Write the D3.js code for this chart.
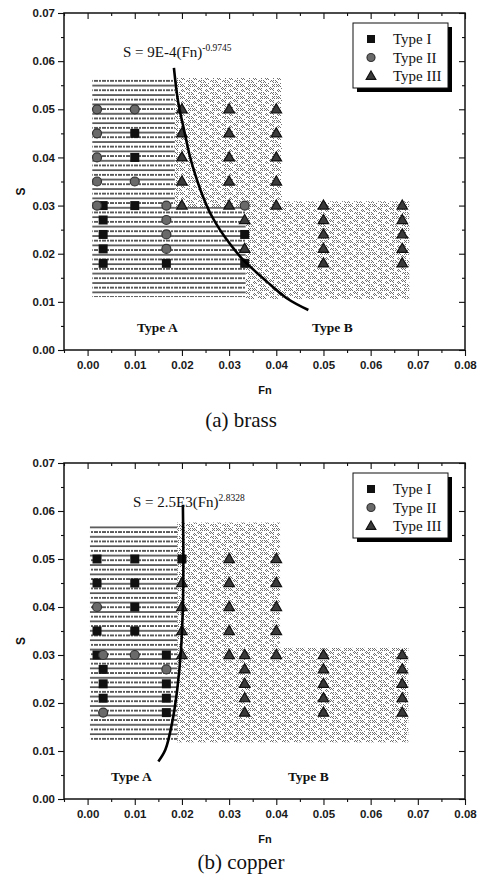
<!DOCTYPE html>
<html>
<head>
<meta charset="utf-8">
<script src="https://cdn.jsdelivr.net/npm/d3@7"></script>
<style>
  body { margin: 0; background: #fff; }
  svg { display: block; }
  .tick text { font-family: "Liberation Sans", Arial, sans-serif; font-size: 11.5px; font-weight: bold; fill: #1a1a1a; }
</style>
</head>
<body>
<div id="chart"></div>
<script>
// Axis ticks
const xTicks = [0, 0.01, 0.02, 0.03, 0.04, 0.05, 0.06, 0.07, 0.08];
const xMinor = [-0.005, 0.005, 0.015, 0.025, 0.035, 0.045, 0.055, 0.065, 0.075];
const yTicks = [0, 0.01, 0.02, 0.03, 0.04, 0.05, 0.06, 0.07];
const yMinor = [0.005, 0.015, 0.025, 0.035, 0.045, 0.055, 0.065];

// (a) brass
const brassTypeI = [[0.010, 0.045], [0.010, 0.040], [0.0033, 0.030], [0.010, 0.030],
    [0.0033, 0.027], [0.0033, 0.024], [0.0333, 0.024], [0.0033, 0.021],
    [0.0033, 0.018], [0.0167, 0.018], [0.0333, 0.018]];
const brassTypeII = [[0.002, 0.050], [0.010, 0.050], [0.002, 0.045], [0.002, 0.040],
    [0.002, 0.035], [0.010, 0.035], [0.002, 0.030], [0.0167, 0.030], [0.0333, 0.030],
    [0.0167, 0.027], [0.0167, 0.024], [0.0167, 0.021]];
const brassTypeIII = [[0.020, 0.050], [0.030, 0.050], [0.040, 0.050],
    [0.020, 0.045], [0.030, 0.045], [0.040, 0.045],
    [0.020, 0.040], [0.030, 0.040], [0.040, 0.040],
    [0.020, 0.035], [0.030, 0.035], [0.040, 0.035],
    [0.020, 0.030], [0.030, 0.030], [0.040, 0.030], [0.050, 0.030], [0.0667, 0.030],
    [0.0333, 0.027], [0.050, 0.027], [0.0667, 0.027],
    [0.050, 0.024], [0.0667, 0.024],
    [0.0333, 0.021], [0.050, 0.021], [0.0667, 0.021],
    [0.050, 0.018], [0.0667, 0.018]];
// boundary curve
const brassCurve = [[0.0183, 0.0586], [0.0192, 0.0515], [0.0205, 0.0455], [0.0217, 0.0402],
    [0.0232, 0.0353], [0.0246, 0.0315], [0.0260, 0.0284], [0.0281, 0.0249],
    [0.0306, 0.0215], [0.0330, 0.0187], [0.0380, 0.0142], [0.0423, 0.0107], [0.0468, 0.0083]];
// shaded zones [x0, x1, y0, y1]
const brassLined = [[0.001, 0.0185, 0.011, 0.0565], [0.0185, 0.0335, 0.011, 0.0297]];
const brassDotted = [[0.0185, 0.0412, 0.0297, 0.0565], [0.0335, 0.0682, 0.0106, 0.0309]];

// (b) copper
const copperTypeI = [[0.002, 0.050], [0.010, 0.050], [0.020, 0.050],
    [0.002, 0.045], [0.010, 0.045], [0.010, 0.040], [0.002, 0.035], [0.010, 0.035],
    [0.002, 0.030], [0.0167, 0.030], [0.0033, 0.027], [0.0033, 0.024], [0.0167, 0.024],
    [0.0033, 0.021], [0.0167, 0.021], [0.0167, 0.018]];
const copperTypeII = [[0.002, 0.040], [0.0033, 0.030], [0.010, 0.030], [0.0167, 0.027], [0.0033, 0.018]];
const copperTypeIII = [[0.030, 0.050], [0.040, 0.050],
    [0.020, 0.045], [0.030, 0.045], [0.040, 0.045],
    [0.020, 0.040], [0.030, 0.040], [0.040, 0.040],
    [0.020, 0.035], [0.030, 0.035], [0.040, 0.035],
    [0.020, 0.030], [0.030, 0.030], [0.0333, 0.030], [0.040, 0.030], [0.050, 0.030], [0.0667, 0.030],
    [0.0333, 0.027], [0.050, 0.027], [0.0667, 0.027],
    [0.0333, 0.024], [0.050, 0.024], [0.0667, 0.024],
    [0.0333, 0.021], [0.050, 0.021], [0.0667, 0.021],
    [0.0333, 0.018], [0.050, 0.018], [0.0667, 0.018]];
const copperCurve = [[0.0202, 0.0613], [0.0203, 0.0505], [0.0202, 0.0401], [0.0198, 0.0311],
    [0.0190, 0.0228], [0.0179, 0.0158], [0.0165, 0.0103], [0.0150, 0.0078]];
const copperLined = [[0.0005, 0.019, 0.012, 0.0572]];
const copperDotted = [[0.019, 0.0408, 0.031, 0.0576], [0.019, 0.068, 0.0118, 0.0315]];

const legendLabels = ['Type I', 'Type II', 'Type III'];

const svg = d3.select('#chart').append('svg')
    .attr('width', 478)
    .attr('height', 880);

// Patterns
const defs = svg.append('defs');
const lined = defs.append('pattern')
    .attr('id', 'lined')
    .attr('patternUnits', 'userSpaceOnUse')
    .attr('width', 8).attr('height', 9.4);
lined.append('line')
    .attr('x1', 0).attr('x2', 8).attr('y1', 1).attr('y2', 1)
    .attr('stroke', '#1a1a1a').attr('stroke-width', 1.3);
lined.append('line')
    .attr('x1', 0).attr('x2', 8).attr('y1', 5.7).attr('y2', 5.7)
    .attr('stroke', '#222').attr('stroke-width', 1.3)
    .attr('stroke-dasharray', '2,1');

const dotMask = [
    'x.x.....x.x.',
    '.x.x.....x..',
    'x.x.x...x.x.',
    '......x.....',
    '.....x.x.x..',
    '..x...x.x...',
    '.x.x.....x..',
    '..x.x.......',
    '.......x.x.x',
    'x.....x.x...',
    '.x.......x.x',
    '....x.......'
];
const dotted = defs.append('pattern')
    .attr('id', 'dotted')
    .attr('patternUnits', 'userSpaceOnUse')
    .attr('width', 12).attr('height', 12);
dotMask.forEach((row, r) => {
    row.split('').forEach((c, k) => {
        if (c === 'x') {
            dotted.append('rect')
                .attr('x', k).attr('y', r)
                .attr('width', 1).attr('height', 1)
                .attr('fill', '#6e6e6e');
        }
    });
});

function drawPanel(cfg) {
    const x = d3.scaleLinear().domain([-0.005, 0.08]).range([64, 465]);
    const y = d3.scaleLinear().domain([0, 0.07]).range([cfg.bottom, cfg.top]);
    const g = svg.append('g');

    // shaded zones
    g.selectAll('.lined')
        .data(cfg.lined)
        .enter().append('rect')
        .attr('x', d => x(d[0]))
        .attr('width', d => x(d[1]) - x(d[0]))
        .attr('y', d => y(d[3]))
        .attr('height', d => y(d[2]) - y(d[3]))
        .attr('fill', 'url(#lined)');

    g.selectAll('.dotted')
        .data(cfg.dotted)
        .enter().append('rect')
        .attr('x', d => x(d[0]))
        .attr('width', d => x(d[1]) - x(d[0]))
        .attr('y', d => y(d[3]))
        .attr('height', d => y(d[2]) - y(d[3]))
        .attr('fill', 'url(#dotted)');

    // axes
    g.append('g').attr('transform', `translate(0,${cfg.bottom})`)
        .call(d3.axisBottom(x).tickValues(xTicks).tickSize(6).tickPadding(5).tickFormat(d3.format('.2f')));
    g.append('g').attr('transform', `translate(0,${cfg.bottom})`)
        .call(d3.axisBottom(x).tickValues(xMinor).tickSize(3).tickFormat(''));
    g.append('g').attr('transform', `translate(0,${cfg.top})`)
        .call(d3.axisTop(x).tickValues(xTicks).tickSize(-6).tickFormat(''));
    g.append('g').attr('transform', `translate(0,${cfg.top})`)
        .call(d3.axisTop(x).tickValues(xMinor).tickSize(-3).tickFormat(''));

    g.append('g').attr('transform', 'translate(64,0)')
        .call(d3.axisLeft(y).tickValues(yTicks).tickSize(6).tickPadding(3).tickFormat(d3.format('.2f')));
    g.append('g').attr('transform', 'translate(64,0)')
        .call(d3.axisLeft(y).tickValues(yMinor).tickSize(3).tickFormat(''));
    g.append('g').attr('transform', 'translate(465,0)')
        .call(d3.axisRight(y).tickValues(yTicks).tickSize(-6).tickFormat(''));
    g.append('g').attr('transform', 'translate(465,0)')
        .call(d3.axisRight(y).tickValues(yMinor).tickSize(-3).tickFormat(''));

    g.selectAll('.domain').remove();
    g.selectAll('.tick line').attr('stroke', '#111').attr('stroke-width', 1.1);

    g.append('rect')
        .attr('x', 64).attr('y', cfg.top)
        .attr('width', 465 - 64).attr('height', cfg.bottom - cfg.top)
        .attr('fill', 'none').attr('stroke', '#111').attr('stroke-width', 1.5);

    // markers
    g.selectAll('.sq')
        .data(cfg.typeI)
        .enter().append('rect')
        .attr('x', d => x(d[0]) - 4.5)
        .attr('y', d => y(d[1]) - 4.5)
        .attr('width', 9).attr('height', 9)
        .attr('fill', '#111');

    g.selectAll('.ci')
        .data(cfg.typeII)
        .enter().append('circle')
        .attr('cx', d => x(d[0]))
        .attr('cy', d => y(d[1]))
        .attr('r', 4.5)
        .attr('fill', '#6a6a6a')
        .attr('stroke', '#333')
        .attr('stroke-width', 1.2);

    const tri = d3.symbol().type(d3.symbolTriangle).size(48);
    g.selectAll('.tr')
        .data(cfg.typeIII)
        .enter().append('path')
        .attr('d', tri)
        .attr('transform', d => `translate(${x(d[0])},${y(d[1]) + 0.5})`)
        .attr('fill', '#3a3a3a')
        .attr('stroke', '#111')
        .attr('stroke-width', 1.2);

    // boundary curve
    g.append('path')
        .datum(cfg.curve)
        .attr('d', d3.line().x(d => x(d[0])).y(d => y(d[1])).curve(d3.curveCatmullRom))
        .attr('fill', 'none')
        .attr('stroke', '#000')
        .attr('stroke-width', 2.6);

    // equation
    const eq = g.append('text')
        .attr('x', cfg.eqX).attr('y', cfg.top + 44)
        .style('font-family', '"Liberation Serif", "Times New Roman", serif')
        .style('font-size', '15px')
        .attr('fill', '#111');
    eq.append('tspan').text(cfg.eqText);
    eq.append('tspan').attr('dy', -6).style('font-size', '9.5px').text(cfg.eqExp);

    // zone labels
    [['Type A', cfg.typeAX], ['Type B', cfg.typeBX]].forEach(([t, px]) => {
        g.append('text')
            .attr('x', px).attr('y', cfg.bottom - 18)
            .style('font-family', '"Liberation Serif", "Times New Roman", serif')
            .style('font-size', '13.5px')
            .style('font-weight', 'bold')
            .attr('fill', '#111')
            .text(t);
    });

    // legend
    const lg = g.append('g').attr('transform', `translate(353,${cfg.top + 10})`);
    lg.append('rect').attr('x', 4).attr('y', 4).attr('width', 95).attr('height', 65).attr('fill', '#000');
    lg.append('rect').attr('x', 0).attr('y', 0).attr('width', 95).attr('height', 65)
        .attr('fill', '#fff').attr('stroke', '#111').attr('stroke-width', 1);
    legendLabels.forEach((t, i) => {
        const cy = 16 + i * 18.5;
        if (i === 0) {
            lg.append('rect').attr('x', 14).attr('y', cy - 4).attr('width', 8).attr('height', 8).attr('fill', '#111');
        } else if (i === 1) {
            lg.append('circle').attr('cx', 18).attr('cy', cy).attr('r', 4)
                .attr('fill', '#6a6a6a').attr('stroke', '#333').attr('stroke-width', 1.2);
        } else {
            lg.append('path').attr('d', d3.symbol().type(d3.symbolTriangle).size(40))
                .attr('transform', `translate(18,${cy + 0.5})`)
                .attr('fill', '#3a3a3a').attr('stroke', '#111').attr('stroke-width', 1.2);
        }
        lg.append('text')
            .attr('x', 40).attr('y', cy + 5)
            .style('font-family', '"Liberation Serif", "Times New Roman", serif')
            .style('font-size', '15px')
            .attr('fill', '#111')
            .text(t);
    });

    // axis titles
    g.append('text')
        .attr('x', 265).attr('y', cfg.bottom + 44)
        .attr('text-anchor', 'middle')
        .style('font-family', '"Liberation Sans", Arial, sans-serif')
        .style('font-size', '11px')
        .style('font-weight', 'bold')
        .attr('fill', '#111')
        .text('Fn');
    g.append('text')
        .attr('transform', `translate(25,${(cfg.top + cfg.bottom) / 2 + 10}) rotate(-90)`)
        .attr('text-anchor', 'middle')
        .style('font-family', '"Liberation Sans", Arial, sans-serif')
        .style('font-size', '12px')
        .style('font-weight', 'bold')
        .attr('fill', '#111')
        .text('S');

    // caption
    g.append('text')
        .attr('x', 241).attr('y', cfg.captionY)
        .attr('text-anchor', 'middle')
        .style('font-family', '"Liberation Serif", "Times New Roman", serif')
        .style('font-size', '21px')
        .attr('fill', '#111')
        .text(cfg.caption);
}

drawPanel({
    top: 13, bottom: 350,
    typeI: brassTypeI, typeII: brassTypeII, typeIII: brassTypeIII,
    curve: brassCurve, lined: brassLined, dotted: brassDotted,
    eqX: 123, eqText: 'S = 9E-4(Fn)', eqExp: '-0.9745',
    typeAX: 137, typeBX: 312,
    caption: '(a) brass', captionY: 427
});

drawPanel({
    top: 463, bottom: 799,
    typeI: copperTypeI, typeII: copperTypeII, typeIII: copperTypeIII,
    curve: copperCurve, lined: copperLined, dotted: copperDotted,
    eqX: 133, eqText: 'S = 2.5E3(Fn)', eqExp: '2.8328',
    typeAX: 111, typeBX: 288,
    caption: '(b) copper', captionY: 869
});
</script>
</body>
</html>
